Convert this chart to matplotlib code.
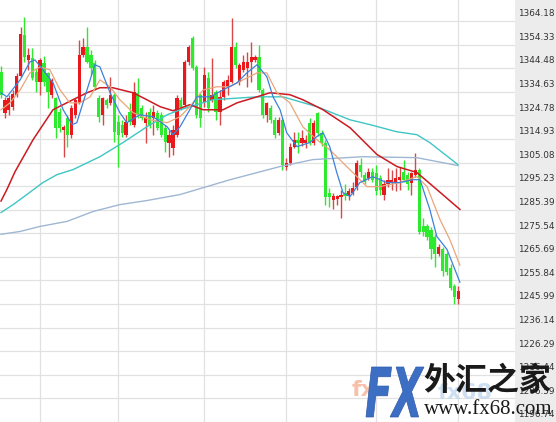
import numpy as np
import matplotlib
matplotlib.use("Agg")
import matplotlib.pyplot as plt
from matplotlib.patches import Rectangle, PathPatch
from matplotlib.textpath import TextPath
from matplotlib.font_manager import FontProperties
from matplotlib.transforms import Affine2D

############### DATA ###################
# candles, left to right (index 0 = first visible bar)
opens = [1342.9, 1325.9, 1327.1, 1328.4, 1333.4, 1341.3, 1358.4, 1347.9, 1348.8, 1342.9,
         1338.8, 1346.7, 1342.5, 1333.4, 1332.1, 1326.3, 1318.8, 1323.8, 1316.7, 1325.0,
         1330.0, 1350.0, 1353.4, 1350.0, 1346.7, 1332.1, 1325.0, 1331.3, 1330.0, 1333.4,
         1322.1, 1320.9, 1316.7, 1326.3, 1320.9, 1334.2, 1327.9, 1321.7, 1326.3, 1323.8,
         1325.9, 1325.0, 1319.6, 1313.4, 1311.3, 1316.7, 1331.3, 1329.2, 1347.1, 1357.1,
         1345.0, 1333.4, 1330.4, 1340.4, 1331.3, 1334.6, 1326.3, 1332.5, 1336.7, 1338.8,
         1353.4, 1338.8, 1343.8, 1344.6, 1347.1, 1347.9, 1349.2, 1335.4, 1325.0, 1327.9,
         1322.9, 1317.5, 1322.9, 1303.4, 1305.0, 1311.7, 1314.6, 1313.4, 1313.4, 1321.7,
         1313.4, 1325.9, 1317.5, 1313.4, 1292.5, 1289.6, 1290.0, 1290.5, 1292.5, 1290.9,
         1292.5, 1295.0, 1304.2, 1300.0, 1298.8, 1301.3, 1300.9, 1298.8, 1291.7, 1295.9,
         1296.7, 1297.1, 1297.9, 1301.3, 1300.0, 1296.7, 1300.0, 1302.1, 1278.4, 1278.4,
         1277.1, 1273.8, 1266.7, 1268.8, 1266.7, 1260.9, 1253.4, 1247.9]
closes = [1333.4, 1331.3, 1332.1, 1333.8, 1341.3, 1358.8, 1349.2, 1350.0, 1340.4, 1338.8,
          1347.9, 1338.8, 1334.6, 1339.6, 1319.6, 1319.6, 1320.0, 1316.7, 1327.9, 1331.3,
          1350.0, 1353.4, 1347.1, 1344.6, 1336.7, 1324.2, 1332.1, 1329.2, 1333.4, 1317.9,
          1316.7, 1317.5, 1322.1, 1322.1, 1334.6, 1325.0, 1323.8, 1323.8, 1320.9, 1326.3,
          1319.6, 1316.7, 1313.8, 1316.7, 1318.8, 1332.1, 1328.4, 1347.1, 1353.4, 1344.6,
          1325.0, 1323.8, 1341.7, 1327.9, 1333.4, 1326.3, 1332.5, 1338.8, 1339.6, 1353.4,
          1345.9, 1345.9, 1347.1, 1347.1, 1349.2, 1349.2, 1335.4, 1325.0, 1330.0, 1322.9,
          1316.7, 1322.9, 1304.2, 1305.0, 1311.7, 1314.6, 1313.4, 1315.5, 1314.6, 1313.4,
          1321.7, 1317.5, 1313.4, 1290.5, 1290.5, 1290.9, 1290.9, 1291.7, 1290.9, 1293.0,
          1294.6, 1305.0, 1301.3, 1297.1, 1301.3, 1297.9, 1293.0, 1293.8, 1295.9, 1297.9,
          1297.9, 1298.8, 1299.2, 1297.9, 1295.9, 1300.9, 1302.1, 1275.9, 1275.9, 1273.8,
          1268.8, 1266.7, 1269.6, 1259.6, 1259.2, 1252.6, 1248.8, 1251.3]
highs = [1345.4, 1332.5, 1333.4, 1335.4, 1342.5, 1361.7, 1365.8, 1352.9, 1352.9, 1344.6,
         1348.8, 1349.6, 1342.9, 1340.4, 1332.5, 1327.9, 1320.9, 1325.0, 1329.2, 1332.1,
         1356.3, 1357.1, 1361.7, 1352.1, 1347.9, 1333.4, 1332.5, 1332.1, 1340.9, 1334.2,
         1325.0, 1322.9, 1325.0, 1330.0, 1338.8, 1340.4, 1329.2, 1326.3, 1327.9, 1329.2,
         1327.1, 1326.3, 1320.9, 1318.8, 1320.9, 1333.4, 1332.5, 1347.9, 1354.2, 1357.9,
         1345.9, 1334.2, 1345.0, 1342.9, 1348.8, 1335.4, 1335.4, 1339.6, 1341.7, 1365.4,
         1355.4, 1346.7, 1350.0, 1351.3, 1355.4, 1350.0, 1354.2, 1336.3, 1330.4, 1329.2,
         1324.2, 1324.2, 1323.8, 1307.1, 1313.4, 1317.9, 1317.9, 1318.8, 1316.7, 1323.8,
         1322.9, 1326.3, 1318.8, 1314.6, 1294.6, 1292.5, 1291.7, 1293.8, 1295.9, 1294.6,
         1297.1, 1306.3, 1307.1, 1301.3, 1302.9, 1302.9, 1304.2, 1300.0, 1297.9, 1302.9,
         1302.1, 1302.9, 1303.4, 1306.3, 1301.3, 1301.3, 1309.2, 1302.9, 1282.1, 1279.2,
         1278.0, 1275.1, 1270.9, 1269.6, 1267.6, 1262.6, 1254.2, 1253.4]
lows = [1332.1, 1323.8, 1325.0, 1327.1, 1332.5, 1340.9, 1347.1, 1343.8, 1339.6, 1334.6,
        1333.4, 1337.1, 1327.9, 1332.1, 1315.5, 1317.9, 1307.5, 1311.7, 1315.5, 1323.8,
        1329.6, 1349.2, 1346.7, 1341.7, 1335.4, 1322.1, 1320.9, 1327.9, 1329.2, 1313.8,
        1303.4, 1315.9, 1315.9, 1320.9, 1320.0, 1323.8, 1322.9, 1313.4, 1319.6, 1316.7,
        1318.8, 1315.9, 1309.6, 1307.5, 1308.4, 1315.9, 1327.1, 1328.4, 1345.9, 1343.8,
        1323.8, 1320.0, 1328.4, 1326.3, 1330.4, 1322.9, 1320.9, 1331.3, 1333.4, 1338.4,
        1344.6, 1337.5, 1342.9, 1336.7, 1338.8, 1347.1, 1334.6, 1323.8, 1322.1, 1321.7,
        1315.5, 1316.7, 1302.1, 1302.1, 1304.2, 1311.3, 1309.2, 1312.1, 1311.3, 1312.5,
        1312.5, 1316.3, 1312.1, 1287.5, 1286.7, 1285.5, 1287.5, 1282.1, 1289.6, 1289.6,
        1291.7, 1293.8, 1299.2, 1295.9, 1297.9, 1297.1, 1291.7, 1291.7, 1289.6, 1295.0,
        1293.8, 1293.0, 1293.8, 1297.1, 1293.8, 1291.7, 1299.2, 1275.1, 1274.2, 1272.9,
        1264.6, 1261.3, 1265.9, 1257.6, 1258.0, 1251.9, 1245.9, 1245.9]

# moving average lines (bar index, price)
ma5_x = [0, 1.5, 4.9, 7.4, 8.7, 10.7, 13.3, 15.9, 18.2, 19.4, 22.0, 24.0, 25.3, 27.9, 30.4,
         32.2, 35.5, 38.9, 42.5, 44.0, 45.8, 48.3, 50.1, 53.5, 56.8, 60.4, 62.9, 65.5, 68.0,
         69.6, 71.4, 73.1, 75.7, 79.0, 80.8, 82.4, 84.1, 85.9, 87.5, 89.3, 91.8, 95.1, 98.7,
         102.0, 105.4, 107.2, 109.7, 111.5, 114.1, 117.4]
ma5_y = [1334.2, 1332.5, 1339.6, 1347.1, 1347.9, 1343.8, 1338.4, 1327.1, 1320.9, 1321.7,
         1335.4, 1345.9, 1345.0, 1334.2, 1325.9, 1321.7, 1325.0, 1324.2, 1320.0, 1316.7,
         1320.0, 1327.1, 1332.5, 1332.5, 1335.4, 1338.4, 1342.5, 1345.9, 1340.9, 1332.5,
         1327.1, 1317.5, 1311.7, 1313.4, 1315.9, 1317.5, 1311.7, 1300.9, 1292.5, 1290.9,
         1296.7, 1299.2, 1296.7, 1296.7, 1297.9, 1297.9, 1285.5, 1274.2, 1268.8, 1255.1]
ma10_x = [0, 2.3, 4.9, 7.4, 10.0, 12.5, 15.1, 17.6, 20.2, 22.8, 25.3, 27.9, 30.4, 33.8, 38.1,
          42.5, 45.8, 48.3, 51.7, 55.2, 58.6, 61.9, 65.5, 68.0, 70.6, 73.9, 77.2, 80.8, 84.1,
          85.9, 90.0, 93.6, 96.9, 102.0, 106.4, 109.0, 112.3, 114.8, 117.4]
ma10_y = [1327.1, 1330.0, 1335.4, 1342.5, 1345.0, 1343.8, 1335.4, 1330.0, 1330.0, 1332.5,
          1339.6, 1336.7, 1331.3, 1325.9, 1322.9, 1321.7, 1324.2, 1328.4, 1335.4, 1336.7,
          1336.7, 1339.6, 1342.5, 1342.5, 1334.2, 1330.0, 1320.0, 1314.6, 1310.4, 1307.5,
          1300.9, 1295.0, 1295.0, 1296.7, 1299.2, 1295.0, 1281.3, 1273.0, 1262.2]
ma20_x = [0, 1.5, 3.6, 8.2, 13.3, 18.4, 22.0, 25.3, 28.6, 33.8, 37.3, 40.7, 44.0, 48.3, 51.7,
          56.8, 60.4, 65.5, 68.8, 73.9, 77.2, 82.4, 89.3, 96.2, 101.3, 106.4, 111.5, 117.4]
ma20_y = [1289.0, 1293.8, 1301.3, 1314.6, 1327.1, 1331.3, 1334.2, 1336.3, 1336.3, 1334.2,
          1331.3, 1328.4, 1326.7, 1329.2, 1327.1, 1327.1, 1330.0, 1332.5, 1334.2, 1333.4,
          1331.3, 1327.1, 1319.6, 1308.4, 1303.4, 1300.9, 1293.8, 1285.5]
ma60_x = [0, 3.1, 6.6, 10.7, 14.3, 18.4, 25.3, 31.2, 37.3, 42.5, 45.8, 54.2, 65.5, 72.1, 80.8,
          89.3, 94.4, 101.3, 106.4, 109.7, 116.9]
ma60_y = [1284.2, 1287.5, 1291.7, 1296.7, 1300.0, 1302.1, 1307.5, 1313.4, 1320.0, 1325.0,
          1327.1, 1331.3, 1332.5, 1332.5, 1328.4, 1322.9, 1320.9, 1317.9, 1316.7, 1313.4,
          1304.2]
ma120_x = [0, 4.9, 10.0, 16.9, 23.5, 30.4, 37.3, 45.8, 58.6, 71.4, 79.8, 92.6, 106.4, 116.9]
ma120_y = [1275.1, 1276.3, 1278.4, 1280.5, 1284.6, 1287.5, 1289.2, 1291.7, 1297.9, 1303.4,
           1306.3, 1307.5, 1307.1, 1303.8]

price_levels = [1364.18, 1354.33, 1344.48, 1334.63, 1324.78, 1314.93, 1305.08, 1295.23, 1285.39,
                1275.54, 1265.69, 1255.84, 1245.99, 1236.14, 1226.29, 1216.44, 1206.59, 1196.74]
price_labels = ["%.2f" % v for v in price_levels]
day_bars = [10, 30, 52, 73, 96, 117]

############### PLOT ###################
UP = "#e8181c"
DOWN = "#2eea2e"

fig = plt.figure(figsize=(5.56, 4.22), dpi=100)
fig.patches.append(Rectangle((515 / 556, 0), 41 / 556, 1, transform=fig.transFigure,
                             color="#ececec", zorder=-5))
ax = fig.add_axes([0, 0, 515 / 556, 1])
ax.set_xlim(-0.26, 131.5)
ax.set_ylim(1197.17, 1372.93)
for s in ax.spines.values():
  s.set_visible(False)
ax.set_xticks(day_bars)
ax.set_yticks(price_levels)
ax.tick_params(length=0, labelbottom=False, labelleft=False)
ax.grid(True, color="#e1e1e1", lw=0.9)
ax.set_axisbelow(True)

o = np.array(opens)
c = np.array(closes)
x = np.arange(len(c))
up = c >= o
ax.vlines(x, lows, highs, colors=np.where(up, "#d84848", DOWN), lw=1.0, zorder=2)
ax.bar(x, np.maximum(np.abs(c - o), 0.6), bottom=np.minimum(o, c), width=0.82,
       color=np.where(up, UP, DOWN), lw=0, zorder=3)

ax.plot(ma120_x, ma120_y, color="#9fb7d2", lw=1.0, zorder=4)
ax.plot(ma60_x, ma60_y, color="#3ec6c4", lw=1.0, zorder=4)
ax.plot(ma20_x, ma20_y, color="#cc1a22", lw=1.1, zorder=4)
ax.plot(ma10_x, ma10_y, color="#eaa57a", lw=0.9, zorder=5)
ax.plot(ma5_x, ma5_y, color="#3b82dc", lw=0.9, zorder=5)

for v, lab in zip(price_levels, price_labels):
  ax.annotate(lab, xy=(1, v), xycoords=("axes fraction", "data"), xytext=(2.3, 5.2),
              textcoords="offset points", fontsize=6.4, color="#333333",
              va="center", ha="left", annotation_clip=False)

# watermark
fig.text(352 / 556, 1 - 390 / 422, "fx", fontsize=16, fontweight="bold", color="#f6b9a2",
         va="center", ha="left", alpha=0.9)
fig.text(438 / 556, 1 - 393 / 422, "fx68", fontsize=16, fontweight="bold", color="#c2d8ef",
         va="center", ha="left", alpha=0.8)
fx_path = TextPath((0, 0), "FX", size=50,
                   prop=FontProperties(family="DejaVu Sans", weight="bold", style="italic"))
ext = fx_path.get_extents()
fx_tr = (Affine2D().translate(-ext.x0, -ext.y0)
         .scale((58 / 556) / ext.width, (50 / 422) / ext.height)
         .translate(366 / 556, 1 - 417 / 422))
fig.patches.append(PathPatch(fx_path, transform=fx_tr + fig.transFigure,
                             facecolor="#3c6fc4", edgecolor="#2f5aa8", lw=0.5, zorder=5))
fig.text(487 / 556, 1 - 381 / 422, "外汇之家", fontsize=23, fontweight="bold",
         family=["Noto Sans CJK SC", "DejaVu Sans"], color="#1a1a1a", va="center",
         ha="center", zorder=6)
fig.text(488 / 556, 1 - 410 / 422, "www.fx68.com", fontsize=15, family="Liberation Serif",
         color="#1a1a1a", va="center", ha="center", zorder=6)

fig.savefig("out.png", dpi=100)
